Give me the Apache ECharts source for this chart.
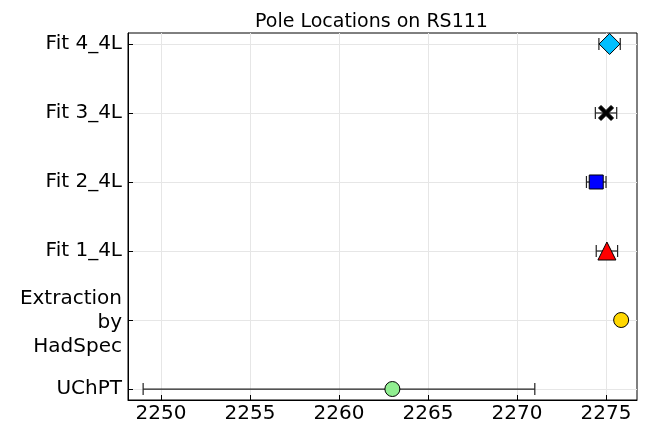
<!DOCTYPE html>
<html>
<head>
<meta charset="utf-8">
<title>Pole Locations on RS111</title>
<script src="https://cdn.jsdelivr.net/npm/echarts@6/dist/echarts.min.js"></script>
<style>
  html, body { margin: 0; padding: 0; background: #fff; }
  #chart { width: 646px; height: 424px; }
</style>
</head>
<body>
<div id="chart"></div>
<script>
// rows bottom -> top
var labels = ['UChPT', 'Extraction\nby\nHadSpec', 'Fit 1_4L', 'Fit 2_4L', 'Fit 3_4L', 'Fit 4_4L'];
var centers = [2263.0, 2275.85, 2275.05, 2274.45, 2275.0, 2275.2];
var errLow = [14.0, 0, 0.6, 0.55, 0.6, 0.6];
var errHigh = [8.0, 0, 0.6, 0.55, 0.6, 0.6];
var xTicks = [2250, 2255, 2260, 2265, 2270, 2275];
var yTicks = [1, 2, 3, 4, 5, 6];

var colors = ['#90ee90', '#ffd700', '#ff0000', '#0000ff', '#000000', '#00bfff'];
var symbols = ['circle', 'circle', 'triangle', 'rect', 'path://M-2,-3 L0,-1 L2,-3 L3,-2 L1,0 L3,2 L2,3 L0,1 L-2,3 L-3,2 L-1,0 L-3,-2 Z', 'diamond'];
var sizes = [15, 15, 18, 14, 15, 21];

var font = 'DejaVu Sans';
var chart = echarts.init(document.getElementById('chart'));

var errData = [];
var pointSeries = [];
labels.forEach(function (name, i) {
  if (errLow[i] > 0 || errHigh[i] > 0) {
    errData.push([centers[i] - errLow[i], centers[i] + errHigh[i], yTicks[i]]);
  }
  pointSeries.push({
    name: name,
    type: 'scatter',
    symbol: symbols[i],
    symbolSize: sizes[i],
    z: 5,
    itemStyle: { color: colors[i], borderColor: '#000', borderWidth: 1, opacity: 1 },
    data: [[centers[i], yTicks[i]]]
  });
});

var option = {
  animation: false,
  title: {
    text: 'Pole Locations on RS111',
    left: 250, top: 8,
    textStyle: { fontFamily: font, fontSize: 19, fontWeight: 'normal', color: '#000' }
  },
  grid: {
    left: 128, right: 9, top: 33, bottom: 23,
    show: true, borderColor: '#000', borderWidth: 1
  },
  xAxis: {
    type: 'value', min: 2248.15, max: 2276.74,
    axisLine: { show: true, lineStyle: { color: '#000' } },
    axisTick: { show: true, inside: true, length: 5, customValues: xTicks, lineStyle: { color: '#000' } },
    axisLabel: {
      customValues: xTicks, fontFamily: font, fontSize: 20, color: '#000', margin: 4,
      formatter: function (v) { return String(v); }
    },
    splitLine: { show: true, lineStyle: { color: '#e6e6e6', width: 1 } }
  },
  yAxis: {
    type: 'value', min: 0.841, max: 6.159,
    axisLine: { show: true, lineStyle: { color: '#000' } },
    axisTick: { show: true, inside: true, length: 5, customValues: yTicks, lineStyle: { color: '#000' } },
    axisLabel: {
      customValues: yTicks, fontFamily: font, fontSize: 20, color: '#000', margin: 6,
      align: 'right', lineHeight: 24,
      formatter: function (v) {
        var s = labels[Math.round(v) - 1];
        return s.indexOf('\n') >= 0 ? '{m|' + s.split('\n').join('}\n{m|') + '}' : s;
      },
      rich: { m: { fontFamily: font, fontSize: 20, lineHeight: 24, padding: [6, 0, 0, 0] } }
    },
    splitLine: { show: true, lineStyle: { color: '#e6e6e6', width: 1 } }
  },
  series: [{
    type: 'custom',
    z: 3,
    renderItem: function (params, api) {
      var a = api.coord([api.value(0), api.value(2)]);
      var b = api.coord([api.value(1), api.value(2)]);
      var h = 6;
      var st = { stroke: '#222', lineWidth: 1.2 };
      return {
        type: 'group',
        children: [
          { type: 'line', shape: { x1: a[0], y1: a[1], x2: b[0], y2: b[1] }, style: st },
          { type: 'line', shape: { x1: a[0], y1: a[1] - h, x2: a[0], y2: a[1] + h }, style: st },
          { type: 'line', shape: { x1: b[0], y1: b[1] - h, x2: b[0], y2: b[1] + h }, style: st }
        ]
      };
    },
    encode: { x: [0, 1], y: 2 },
    data: errData
  }].concat(pointSeries)
};
chart.setOption(option);
</script>
</body>
</html>
